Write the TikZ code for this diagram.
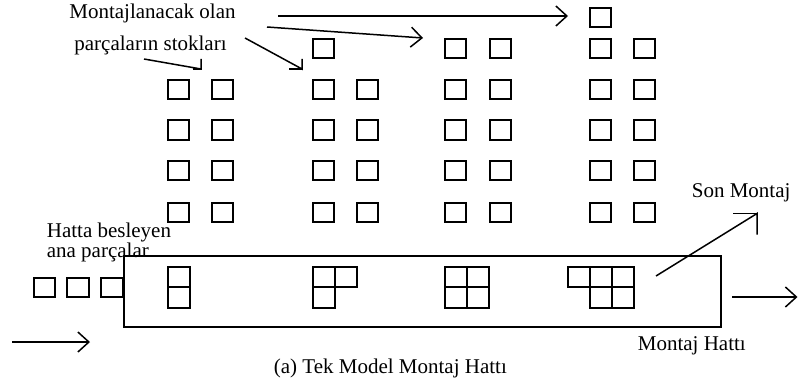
\documentclass[tikz,border=0pt]{standalone}
\usepackage{fontspec}
\setmainfont{Liberation Serif}
\usetikzlibrary{arrows.meta}
\begin{document}
\begin{tikzpicture}[x=1pt,y=-1pt,line width=1.7pt,
  cell/.style={draw,line width=1.7pt,minimum width=21.5pt,minimum height=19.5pt,
    inner sep=0pt,outer sep=0pt,anchor=north west},
  gcell/.style={cell,minimum width=22.2pt,minimum height=20.5pt},
  lbl/.style={inner sep=0pt,font=\fontsize{21}{20}\selectfont},
  flow/.style={-{Straight Barb[length=11pt,width=20pt]},line width=1.5pt},
  barb/.style={line width=1.5pt}]
\useasboundingbox (0,0) rectangle (799,385);

% stock columns of parts waiting at each station
\foreach \c/\xa/\xb in {1/167.7/211.7, 2/312.7/356.7, 3/444.7/489.7, 4/589.7/633.7} {
  \foreach \r/\y in {2/79.7,3/120.2,4/160.7,5/202.7} {
    \node[cell] (s\c-\r-a) at (\xa,\y) {};
    \node[cell] (s\c-\r-b) at (\xb,\y) {};
  }
}
\node[cell] (s2-1-a) at (312.7,38.7) {};
\node[cell] (s3-1-a) at (444.7,38.7) {};
\node[cell] (s3-1-b) at (489.7,38.7) {};
\node[cell] (s4-1-a) at (589.7,38.7) {};
\node[cell] (s4-1-b) at (633.7,38.7) {};
\node[cell] (s4-0-a) at (589.7,7.7) {};

% assembly line body
\node[draw,line width=1.7pt,minimum width=597.6pt,minimum height=71pt,
  inner sep=0pt,outer sep=0pt,anchor=north west] (line) at (123.7,255.7) {};

% main parts feeding the line
\node[cell] (f1) at (33.7,277.7) {};
\node[cell] (f2) at (67.2,277.7) {};
\node[cell] (f3) at (100.9,277.7) {};

% growing assemblies inside the line
\node[gcell] (g1a) at (167.7,266.7) {};
\node[gcell] (g1b) at (167.7,287.2) {};
\node[gcell] (g2a) at (312.7,266.7) {};
\node[gcell] (g2b) at (312.7,287.2) {};
\node[gcell] (g2c) at (334.9,266.7) {};
\node[gcell] (g3a) at (444.7,266.7) {};
\node[gcell] (g3b) at (466.9,266.7) {};
\node[gcell] (g3c) at (444.7,287.2) {};
\node[gcell] (g3d) at (466.9,287.2) {};
\node[gcell] (g4a) at (567.7,266.7) {};
\node[gcell] (g4b) at (589.9,266.7) {};
\node[gcell] (g4c) at (612.1,266.7) {};
\node[gcell] (g4d) at (589.9,287.2) {};
\node[gcell] (g4e) at (612.1,287.2) {};

% labels
\node[lbl,anchor=base] (t1) at (152.5,19) {Montajlanacak olan};
\node[lbl,anchor=base] (t2) at (150.5,51) {parçaların stokları};
\node[lbl,anchor=base west] (t3) at (46,237) {Hatta besleyen};
\node[lbl,anchor=base west] (t4) at (46,257) {ana parçalar};
\node[lbl,anchor=base west] (t5) at (691,197) {Son Montaj};
\node[lbl,anchor=base west] (t6) at (637,350) {Montaj Hattı};
\node[lbl,anchor=base west] (t7) at (273,373) {(a) Tek Model Montaj Hattı};

% pointers from the stock label
\coordinate (p1s) at (144,59);
\coordinate (p1e) at (201,69);
\coordinate (p2s) at (245,38);
\coordinate (p2e) at (302,69);
\draw[barb] (p1s) -- (p1e) -- ++(0,-10);
\draw[barb] (p1e) -- ++(-8,0);
\draw[barb] (p2s) -- (p2e) -- ++(0,-10);
\draw[barb] (p2e) -- ++(-13,0);
\coordinate (p3s) at (267,27);
\coordinate (p3e) at (423,38);
\draw[flow] (p3s) -- (p3e);
\coordinate (p4s) at (278,16);
\coordinate (p4e) at (568,16);
\draw[flow] (p4s) -- (p4e);

% flow direction arrows
\coordinate (in1) at (12,342);
\coordinate (in2) at (90,342);
\draw[flow] (in1) -- (in2);
\coordinate (out2) at (797.5,297);
\draw[flow] (line.east |- out2) ++(11,0) -- (out2);

% final assembly pointer
\coordinate (fa1) at (656,276);
\coordinate (fa2) at (757,213.5);
\draw[barb] (fa1) -- (fa2) -- ++(0,21);
\draw[barb] (fa2) -- ++(-24,0);
\end{tikzpicture}
\end{document}
